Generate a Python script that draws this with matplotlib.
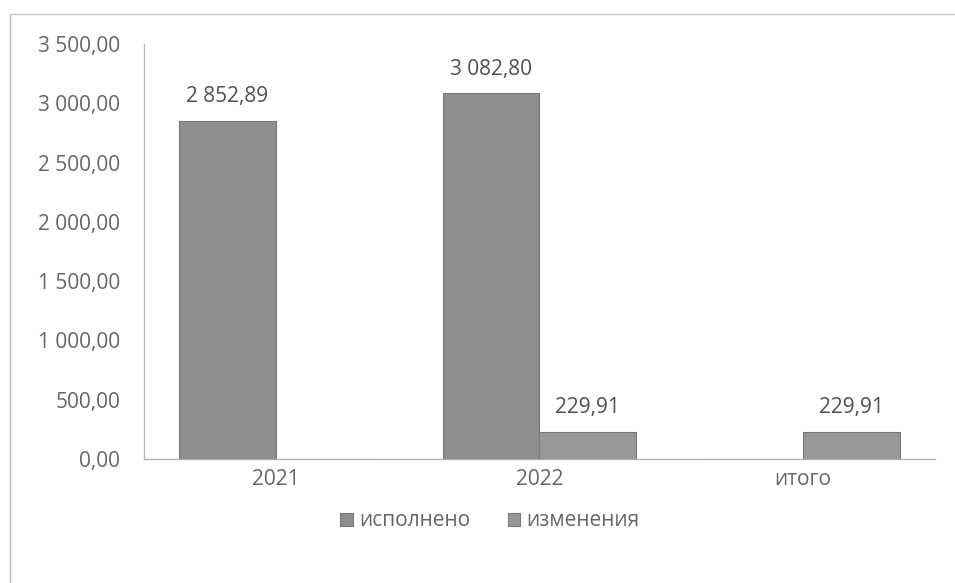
"""Grouped bar chart: исполнено vs изменения by year."""

from matplotlib import pyplot
from matplotlib.lines import Line2D
from matplotlib.ticker import FuncFormatter
import numpy as np

categories = ['2021', '2022', 'итого']
series_names = ['исполнено', 'изменения']
done_values = [2852.89, 3082.80, 0.0]
change_values = [0.0, 229.91, 229.91]
y_ticks = [0, 500, 1000, 1500, 2000, 2500, 3000, 3500]


def ru_fmt(v, pos=None):
    s = f'{v:,.2f}'
    return s.replace(',', ' ').replace('.', ',')


text_color = '#666666'
pyplot.rc('font', family=['Open Sans', 'DejaVu Sans'], size=15)

fig = pyplot.figure(figsize=(9.55, 5.83), dpi=100)
ax = fig.add_axes([0.1508, 0.2127, 0.979 - 0.1508, 0.9245 - 0.2127])

x = np.arange(len(categories))
width = 0.367
colors = ['#8e8e8e', '#979797']
for k, (vals, color) in enumerate(zip([done_values, change_values], colors)):
    offset = (k - 0.5) * width
    bars = ax.bar(x + offset, vals, width, color=color, label=series_names[k],
                  edgecolor='#7a7a7a', linewidth=0.8)
    for rect, v in zip(bars, vals):
        if v > 0:
            ax.annotate(ru_fmt(v), (rect.get_x() + rect.get_width() / 2, v),
                        xytext=(0, 10), textcoords='offset points',
                        ha='center', va='bottom', color='#505050',
                        fontsize=15)

ax.set_xlim(-0.5, len(categories) - 0.5)
ax.set_ylim(0, 3500)
ax.set_yticks(y_ticks)
ax.yaxis.set_major_formatter(FuncFormatter(ru_fmt))
ax.set_xticks(x)
ax.set_xticklabels(categories)
ax.tick_params(axis='y', length=0, pad=17, colors=text_color, labelsize=15)
ax.tick_params(axis='x', length=0, pad=7, colors=text_color, labelsize=15)
for side in ['top', 'right']:
    ax.spines[side].set_visible(False)
ax.spines['left'].set_color('#b5b5b5')
ax.spines['left'].set_linestyle((0, (4, 1)))
ax.spines['left'].set_linewidth(0.9)
ax.spines['bottom'].set_color('#b0b0b0')
ax.spines['bottom'].set_linewidth(0.9)

# outer chart frame (left and top edges)
fig.add_artist(Line2D([10 / 955, 10 / 955], [0, 1 - 14 / 583],
                      color='#b8b8b8', linewidth=1.0))
fig.add_artist(Line2D([10 / 955, 1], [1 - 14 / 583, 1 - 14 / 583],
                      color='#cccccc', linewidth=1.0))

fig.legend(loc='center', bbox_to_anchor=(490 / 955, 1 - 521 / 583), ncol=2,
           frameon=False, handlelength=0.6, handleheight=0.6,
           handletextpad=0.3, columnspacing=1.8, fontsize=15,
           labelcolor=text_color)

fig.savefig('out.png', dpi=100)
